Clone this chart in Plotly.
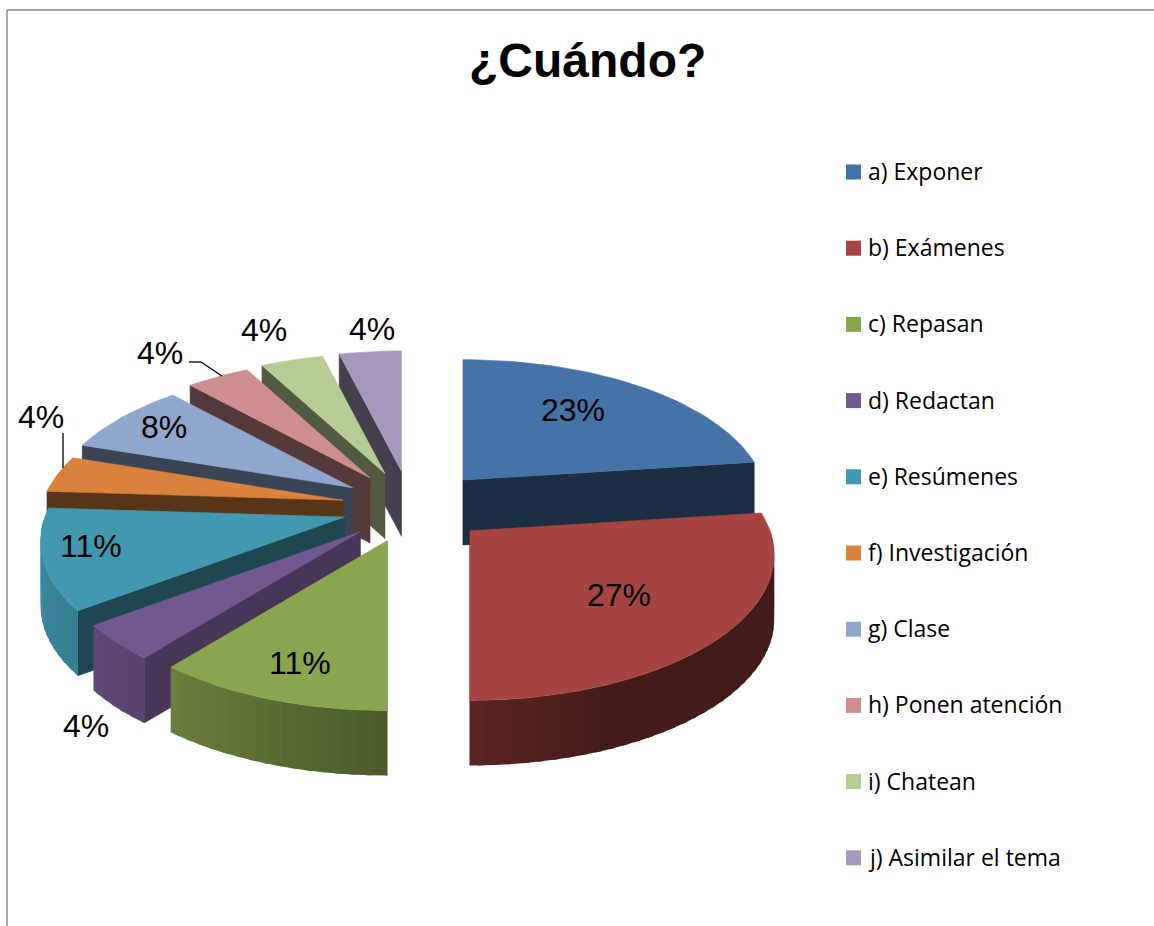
import math
import plotly.graph_objects as go

categories = ["a) Exponer", "b) Exámenes", "c) Repasan", "d) Redactan", "e) Resúmenes",
              "f) Investigación", "g) Clase", "h) Ponen atención", "i) Chatean", "j) Asimilar el tema"]
percent = [23, 27, 11, 4, 11, 4, 8, 4, 4, 4]
colors = ["#4673A7", "#A64442", "#89A54E", "#71588F", "#4198AF",
          "#D8823B", "#8FA6CD", "#CD8E8D", "#B7CB94", "#A698BC"]
wall_shade = [0.40, 0.42, 0.45, 0.62, 0.47, 0.41, 0.41, 0.41, 0.45, 0.42]
title = "¿Cuándo?"

# Projection of the tilted, exploded pie (pixel-space axes)
CX, CY = 410, 507
EXPL_XL, EXPL_XR, EXPL_Y = 68, 80, 36
RX, RY = 300, 145
PERSP = 0.17
DEPTH = 65
DRAW_ORDER = [0, 9, 8, 7, 6, 5, 4, 3, 1, 2]
LABEL_POS = [(573, 410), (619, 595), (300, 663), (86, 726), (91, 546),
             (41, 417), (164, 427), (160, 353), (264, 330), (372, 329)]


def shade(hex_color, f):
    r, g, b = (int(hex_color[i:i + 2], 16) for i in (1, 3, 5))
    return f"rgb({int(r * f)},{int(g * f)},{int(b * f)})"


def rim(ax, ay, deg):
    t = math.radians(deg)
    X, Y = math.sin(t), math.cos(t)
    s = 1 - PERSP * Y
    return ax + RX * X * s, ay - RY * Y * s


def poly(xs, ys, color, width=0.6):
    return go.Scatter(x=xs + xs[:1], y=ys + ys[:1], mode="lines", fill="toself", fillcolor=color,
                      line=dict(color=color, width=width), hoverinfo="skip", showlegend=False)


fig = go.Figure()
total = sum(percent)
starts, cum = [], 0
for v in percent:
    starts.append(cum / total * 360)
    cum += v

for i in DRAW_ORDER:
    a0 = starts[i]
    a1 = a0 + percent[i] / total * 360
    mid = math.radians((a0 + a1) / 2)
    sx = math.sin(mid)
    ax = CX + (EXPL_XR if sx > 0 else EXPL_XL) * sx
    ay = CY - EXPL_Y * math.cos(mid)
    c = colors[i]
    # radial wall facing the viewer
    if a0 >= 180 or a1 <= 180:
        edge = a0 if a0 >= 180 else a1
        ex, ey = rim(ax, ay, edge)
        fig.add_trace(poly([ax, ex, ex, ax], [ay, ey, ey + DEPTH, ay + DEPTH], shade(c, wall_shade[i])))
    # outer wall, only its front part, in shaded overlapping strips
    d = a0
    while d < a1 - 1e-6:
        n = min(d + 2.5, a1)
        if 90 <= (d + n) / 2 <= 270:
            x0, y0 = rim(ax, ay, d)
            x1, y1 = rim(ax, ay, min(n + 1.0, a1))
            f = max(0.40, min(0.9, 0.55 - 0.35 * math.sin(math.radians((d + n) / 2))))
            fig.add_trace(poly([x0, x1, x1, x0], [y0, y1, y1 + DEPTH, y0 + DEPTH], shade(c, f), width=0))
        d = n
    # top face
    steps = max(2, int((a1 - a0) / 2))
    pts = [rim(ax, ay, a0 + (a1 - a0) * k / steps) for k in range(steps + 1)]
    fig.add_trace(poly([ax] + [p[0] for p in pts], [ay] + [p[1] for p in pts], c))

# legend swatches
LEG_Y0, LEG_DY = 172, 76.2
leg_y = [LEG_Y0 + LEG_DY * k for k in range(len(categories))]
fig.add_trace(go.Scatter(x=[853.5] * len(categories), y=leg_y, mode="markers",
                         marker=dict(symbol="square", size=15, color=colors), hoverinfo="skip", showlegend=False))

ann = [dict(x=587, y=60, text=f"<b>{title}</b>", showarrow=False,
            font=dict(family="Liberation Sans", size=48, color="black"))]
for k, name in enumerate(categories):
    ann.append(dict(x=865.5, y=leg_y[k] - 1, text=name, xanchor="left", showarrow=False,
                    font=dict(family="Open Sans", size=23, color="black")))
for v, (x, y) in zip(percent, LABEL_POS):
    ann.append(dict(x=x, y=y, text=f"{v}%", showarrow=False,
                    font=dict(family="Liberation Sans", size=32, color="black")))

frame = dict(color="#868686", width=1.5)
leader = dict(color="black", width=1.3)
shapes = [
    dict(type="line", x0=7, y0=10, x1=1154, y1=10, line=frame),
    dict(type="line", x0=7, y0=10, x1=7, y1=926, line=frame),
    dict(type="line", x0=63, y0=433, x1=63, y1=468, line=leader),
    dict(type="line", x0=189, y0=362, x1=201, y1=362, line=leader),
    dict(type="line", x0=201, y0=362, x1=222, y1=376, line=leader),
]
for s in shapes:
    s.update(xref="x", yref="y")

fig.update_layout(width=1154, height=926, margin=dict(l=0, r=0, t=0, b=0), showlegend=False,
                  paper_bgcolor="white", plot_bgcolor="white",
                  xaxis=dict(range=[0, 1154], visible=False, fixedrange=True),
                  yaxis=dict(range=[926, 0], visible=False, fixedrange=True),
                  annotations=ann, shapes=shapes)
fig.write_html("out.html", config={"displayModeBar": False},
               post_script="document.body.style.margin='0';document.body.style.overflow='hidden';")
